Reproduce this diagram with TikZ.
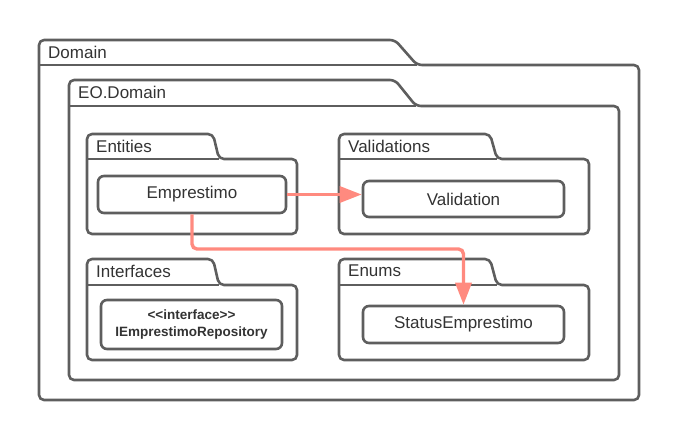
\documentclass[tikz,border=0pt]{standalone}
\usepackage{fontspec}
\setmainfont{Liberation Sans}
\usepackage{xcolor}
\usepackage{tikz}
\usetikzlibrary{arrows.meta,positioning}
\definecolor{cLine}{HTML}{5E5E5E}
\definecolor{cText}{HTML}{333333}
\definecolor{cDep}{HTML}{FF8A7F}
\tikzset{
  pkg/.style    ={draw=cLine, line width=2.6pt, rounded corners=5pt, line join=round},
  pkglabel/.style={anchor=west, inner sep=0pt, text=cText, font=\fontsize{17}{20}\selectfont},
  cls/.style    ={draw=cLine, line width=2.6pt, rounded corners=6pt, fill=white, align=center,
                  text=cText, font=\fontsize{17}{20}\selectfont, inner sep=0pt},
  iface/.style  ={cls, font=\bfseries\fontsize{13.5}{16.5}\selectfont},
  dep/.style    ={-{Triangle[length=22pt, width=16pt]}, draw=cDep,
                  line width=3.4pt, rounded corners=5pt},
}

\begin{document}
\begin{tikzpicture}[x=1pt, y=-1pt]
        \useasboundingbox (0,0) rectangle (680,440);
        % packages
        \draw[pkg] (39,65) -- (39,40) -- (395,40) -- (417,65) -- (639,65) -- (639,400) -- (39,400) -- cycle;
        \draw[pkg] (39,65) -- (417,65);
        \node[pkglabel] (domainlbl) at (48,52) {Domain};
        \draw[pkg] (69,106) -- (69,80) -- (395,80) -- (416,106) -- (619,106) -- (619,380) -- (69,380) -- cycle;
        \draw[pkg] (69,106) -- (416,106);
        \node[pkglabel] (eodomainlbl) at (78,92) {EO.Domain};
        \draw[pkg] (87,159) -- (87,134) -- (213,134) -- (219,159) -- (297,159) -- (297,234) -- (87,234) -- cycle;
        \draw[pkg] (87,159) -- (219,159);
        \node[pkglabel] (entitieslbl) at (96,146) {Entities};
        \draw[pkg] (339,159) -- (339,134) -- (490,134) -- (497,159) -- (589,159) -- (589,234) -- (339,234) -- cycle;
        \draw[pkg] (339,159) -- (497,159);
        \node[pkglabel] (validationslbl) at (348,146) {Validations};
        \draw[pkg] (87,285) -- (87,259) -- (213,259) -- (219,285) -- (297,285) -- (297,360) -- (87,360) -- cycle;
        \draw[pkg] (87,285) -- (219,285);
        \node[pkglabel] (interfaceslbl) at (96,271) {Interfaces};
        \draw[pkg] (339,285) -- (339,259) -- (490,259) -- (497,285) -- (589,285) -- (589,360) -- (339,360) -- cycle;
        \draw[pkg] (339,285) -- (497,285);
        \node[pkglabel] (enumslbl) at (348,271) {Enums};
        % classes
        \node[cls, minimum width=188pt, minimum height=37pt] (emprestimo) at (192,194.5) {Emprestimo};
        \node[cls, minimum width=201pt, minimum height=36pt] (validation) at (463.5,199) {Validation};
        \node[iface, minimum width=181pt, minimum height=49pt] (irepo) at (191.5,324.5) {{<}{<}interface{>}{>}\\IEmprestimoRepository};
        \node[cls, minimum width=201pt, minimum height=37pt] (status) at (463.5,324.5) {StatusEmprestimo};
        % dependencies
        \coordinate (elbow) at (300,249);
        \draw[dep] (emprestimo.east) -- (emprestimo.east -| validation.west);
        \draw[dep] (emprestimo.south) |- (elbow) -| (status.north);
\end{tikzpicture}
\end{document}
